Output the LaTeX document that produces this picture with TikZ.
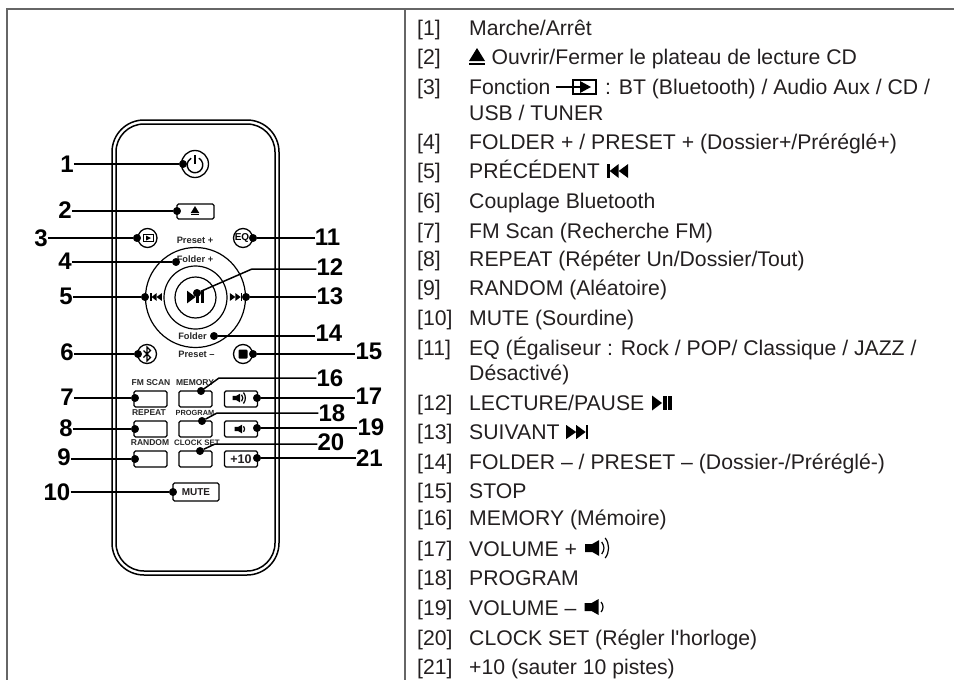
\documentclass[tikz,border=0pt]{standalone}
\usepackage{fontspec}
\setmainfont{Liberation Sans}
\usetikzlibrary{positioning, arrows.meta, shapes}
\definecolor{rulegray}{HTML}{666666}
\definecolor{inktext}{HTML}{231F20}
\newcommand{\fs}[1]{\fontsize{#1}{#1}\selectfont}
\tikzstyle{every node}=[inner sep=0pt, text=inktext]
\tikzstyle{callout}=[font=\fs{24}\bfseries, text=black]
\tikzstyle{pin}=[draw=black, fill=black, shape=circle, minimum size=7.5pt]
\tikzstyle{lead}=[line width=1.5pt, black]
\tikzstyle{btn}=[draw=black, rectangle, rounded corners=1.5pt, line width=1.3pt, minimum width=33pt, minimum height=16pt]
\tikzstyle{roundbtn}=[draw=black, shape=circle, line width=1.3pt, minimum size=19pt]
\tikzstyle{ring}=[draw=black, shape=circle, line width=1.2pt]
\tikzstyle{caption}=[font=\fs{9.3}\bfseries, text=black!85]
\tikzstyle{keytext}=[font=\fs{8.5}\bfseries, text=black!85]
\tikzstyle{num}=[font=\fs{21.2}, anchor=base west]
\tikzstyle{item}=[font=\fs{21.2}, anchor=base west]
\tikzset{
  pics/ejectsym/.style={code={
    \fill[black] (-8,4) -- (8,4) -- (0,-9) -- cycle;
    \fill[black] (-8,5.5) rectangle (8,8);}},
  pics/inputsym/.style={code={
    \draw[line width=1.6pt, black] (-27,0) -- (-2,0);
    \draw[line width=1.6pt, black] (-10,-7) rectangle (13,7);
    \fill[black] (-3,-6) -- (8,0) -- (-3,6) -- cycle;}},
  pics/prevsym/.style={code={
    \fill[black] (-10.5,-7) rectangle (-8,7);
    \fill[black] (-8,0) -- (1,-7) -- (1,7) -- cycle;
    \fill[black] (1,0) -- (10.5,-7) -- (10.5,7) -- cycle;}},
  pics/nextsym/.style={code={
    \fill[black] (11,-7) rectangle (8.5,7);
    \fill[black] (8.5,0) -- (-1,-7) -- (-1,7) -- cycle;
    \fill[black] (-1,0) -- (-11,-7) -- (-11,7) -- cycle;}},
  pics/playsym/.style={code={
    \fill[black] (-10,-7.5) -- (0,0) -- (-10,7.5) -- cycle;
    \fill[black] (1,-7) rectangle (4.5,7);
    \fill[black] (6,-7) rectangle (10,7);}},
  pics/speakersym/.style={code={
    \fill[black] (-10,-4) -- (-3,-4) -- (4,-8) -- (4,8) -- (-3,4) -- (-10,4) -- cycle;}},
  pics/wavesone/.style={code={
    \draw[line width=1.2pt, black] (6.5,-5) .. controls (9,-2) and (9,2) .. (6.5,5);}},
  pics/wavestwo/.style={code={
    \draw[line width=1.2pt, black] (6.5,-6) .. controls (9.5,-2) and (9.5,2) .. (6.5,6);
    \draw[line width=1.2pt, black] (10,-10) .. controls (14.5,-4) and (14.5,4) .. (10,10);}},
  pics/powersym/.style={code={
    \draw[line width=1.4pt, black] (3.9,-6.8) arc[start angle=-60, end angle=240, radius=7.8];
    \draw[line width=1.6pt, black] (0,-10) -- (0,-1);}},
  pics/btsym/.style={code={
    \draw[line width=1.1pt, black] (-3.5,-3.5) -- (3.5,3.5) -- (0,7) -- (0,-7) -- (3.5,-3.5) -- (-3.5,3.5);}},
  pics/stopsym/.style={code={
    \fill[black, rounded corners=1pt] (-4.5,-4.5) rectangle (4.5,4.5);}}
}

\begin{document}
\begin{tikzpicture}[x=1pt,y=-1pt]
  \useasboundingbox (0,0) rectangle (954,680);
  % table rules
  \coordinate (tl) at (7,9);
  \coordinate (tr) at (954,9);
  \coordinate (tm) at (405,9);
  \coordinate (bl) at (7,680);
  \coordinate (bm) at (405,680);
  \draw[rulegray, line width=1.8pt] (bl) -- (tl) -- (tr);
  \draw[rulegray, line width=1.8pt] (tm) -- (bm);

  % remote body
  \draw[line width=1.5pt, black, rounded corners=32pt] (112,120) rectangle (279,575);
  \draw[line width=1.5pt, black, rounded corners=28pt] (116,124) rectangle (275,571);

  % keys
  \node[ring, minimum size=27pt, line width=1.3pt] (power) at (195,164) {};
  \pic at (195,165) {powersym};
  \node[btn, minimum width=37pt, minimum height=15pt] (eject) at (195.5,211.5) {};
  \pic[scale=.55] at (195,211) {ejectsym};
  \node[roundbtn] (input) at (147.5,238) {};
  \draw[line width=.8pt, black] (143,234.5) rectangle (153,241.5);
  \fill[black] (146,235.5) -- (151,238) -- (146,240.5) -- cycle;
  \node[roundbtn] (eq) at (243,238) {};
  \node[font=\fs{10}\bfseries, text=black] (eqtext) at (242,238) {EQ};
  \node[ring, minimum size=100pt] (wheel) at (195.5,297.5) {};
  \node[ring, minimum size=63pt] (wheelmid) at (195.5,297.5) {};
  \node[ring, minimum size=41pt] (wheelin) at (195.5,297.5) {};
  \pic[scale=.85] at (195.5,297) {playsym};
  \pic[scale=.55] at (156,297) {prevsym};
  \pic[scale=.55] at (236,297) {nextsym};
  \node[roundbtn] (bt) at (147,354) {};
  \pic at (147,354) {btsym};
  \node[roundbtn] (stop) at (243,354) {};
  \pic at (243,354) {stopsym};
  \node[caption] (presetp) at (195,240) {Preset +};
  \node[caption] (folderp) at (195,259) {Folder +};
  \node[caption] (folderm) at (192.5,336) {Folder};
  \node[caption] (presetm) at (196.5,354) {Preset –};

  \node[btn] (fmscan) at (150.5,399) {};
  \node[btn] (memory) at (195.5,399) {};
  \node[btn] (volup) at (241,399) {};
  \node[btn] (repeat) at (150.5,429) {};
  \node[btn] (program) at (195.5,429) {};
  \node[btn] (voldn) at (241,429) {};
  \node[btn] (random) at (150.5,459) {};
  \node[btn] (clockset) at (195.5,459) {};
  \node[btn, font=\fs{12.5}\bfseries] (plusten) at (241,459) {+10};
  \node[btn, minimum width=46pt, minimum height=18pt, font=\fs{10}\bfseries] (mute) at (196,492) {MUTE};
  \pic[scale=.55] at (238,398) {speakersym};
  \pic[scale=.55] at (238,398) {wavestwo};
  \pic[scale=.55] at (240,429) {speakersym};
  \pic[scale=.55] at (240,429) {wavesone};
  \node[keytext] (fmscantext) at (151,383) {FM SCAN};
  \node[keytext] (memorytext) at (195,383) {MEMORY};
  \node[keytext] (repeattext) at (149,413) {REPEAT};
  \node[keytext, font=\fs{7.4}\bfseries] (programtext) at (195,413) {PROGRAM};
  \node[keytext] (randomtext) at (150,443) {RANDOM};
  \node[keytext, font=\fs{7.9}\bfseries] (clocktext) at (197,443) {CLOCK SET};

  % callouts left
  \foreach \i/\lx/\ly/\px/\py in {1/67/164/183/164, 2/65/210/177/211, 3/41/238/137/238, 4/65/261/176/262,
      5/66/296/145/297, 6/67/352/138/354, 7/67/397/135/398, 8/66/428/135/429, 9/64/457/135/459, 10/57/492/173/492} {
    \node[callout] (lab\i) at (\lx,\ly) {\i};
    \node[pin] (pin\i) at (\px,\py) {};
    \draw[lead] (pin\i -| lab\i.east) -- (pin\i);
  }
  % callouts right
  \foreach \i/\lx/\ly/\px/\py in {11/327.5/237/253/238, 13/330/296/246/297, 14/329/333/214/336,
      15/369/351/253/354, 17/369/396/257/398, 19/371/427/257/428, 21/369.5/458/257/458} {
    \node[callout] (lab\i) at (\lx,\ly) {\i};
    \node[pin] (pin\i) at (\px,\py) {};
    \draw[lead] (pin\i) -- (pin\i -| lab\i.west);
  }
  % bent callouts
  \foreach \i/\lx/\ly/\px/\py/\kx/\ky in {12/330/267/197/293/252/269, 16/330/378/201/391/219/378,
      18/332/413/202/421/217/413, 20/331/442/200/451/215/444} {
    \node[callout] (lab\i) at (\lx,\ly) {\i};
    \node[pin] (pin\i) at (\px,\py) {};
    \coordinate (knee\i) at (\kx,\ky);
    \draw[lead] (pin\i) -- (knee\i) -- (knee\i -| lab\i.west);
  }

  % legend
  \foreach \i/\y in {1/35, 2/64, 3/94, 4/149, 5/178, 6/208, 7/238, 8/266, 9/295, 10/325, 11/355,
      12/410, 13/439, 14/469, 15/498, 16/525, 17/556, 18/585, 19/615, 20/645, 21/674} {
    \node[num] (num\i) at (417,\y) {[\i]};
  }
  \foreach \n/\y/\t in {1/35/{Marche/Arrêt}, 3/94/{Fonction}, 3b/120/{USB / TUNER},
      4/149/{FOLDER + / PRESET + (Dossier+/Préréglé+)}, 5/178/{PRÉCÉDENT}, 6/208/{Couplage Bluetooth},
      7/238/{FM Scan (Recherche FM)}, 8/266/{REPEAT (Répéter Un/Dossier/Tout)}, 9/295/{RANDOM (Aléatoire)},
      10/325/{MUTE (Sourdine)}, 11/355/{EQ (Égaliseur : Rock / POP/ Classique / JAZZ /}, 11b/380/{Désactivé)},
      12/410/{LECTURE/PAUSE}, 13/439/{SUIVANT}, 14/469/{FOLDER – / PRESET – (Dossier-/Préréglé-)},
      15/498/{STOP}, 16/525/{MEMORY (Mémoire)}, 17/556/{VOLUME +}, 18/585/{PROGRAM}, 19/615/{VOLUME –},
      20/645/{CLOCK SET (Régler l\textquotesingle horloge)}, 21/674/{+10 (sauter 10 pistes)}} {
    \node[item] (item\n) at (469,\y) {\t};
  }
  \pic at (477,57) {ejectsym};
  \node[item] (item2) at (491.5,64) {Ouvrir/Fermer le plateau de lecture CD};
  \pic at (583,87) {inputsym};
  \node[item] (item3a) at (605,94) {: BT (Bluetooth) / Audio Aux / CD /};
  \pic at ([xshift=17.5pt,yshift=7pt]item5.base east) {prevsym};
  \pic at ([xshift=17.5pt,yshift=7pt]item12.base east) {playsym};
  \pic at ([xshift=17.5pt,yshift=7pt]item13.base east) {nextsym};
  \pic at ([xshift=18pt,yshift=8pt]item17.base east) {speakersym};
  \pic at ([xshift=18pt,yshift=8pt]item17.base east) {wavestwo};
  \pic at ([xshift=18pt,yshift=8pt]item19.base east) {speakersym};
  \pic at ([xshift=18pt,yshift=8pt]item19.base east) {wavesone};
\end{tikzpicture}
\end{document}
